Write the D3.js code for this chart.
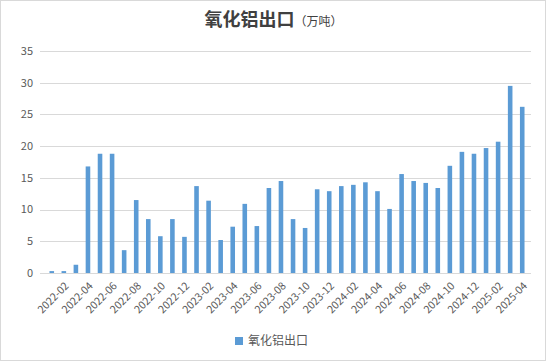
<!DOCTYPE html>
<html lang="zh">
<head>
<meta charset="UTF-8">
<title>氧化铝出口</title>
<script src="https://cdnjs.cloudflare.com/ajax/libs/d3/7.8.5/d3.min.js"></script>
<style>
    body { margin: 0; background: #fff; font-family: "Noto Sans CJK SC", "Noto Sans", sans-serif; }
    svg { display: block; }
</style>
</head>
<body>
<div id="chart"></div>
<script>
    // months, one bar each
    const months = [
        "2022-01", "2022-02", "2022-03", "2022-04", "2022-05", "2022-06", "2022-07", "2022-08",
        "2022-09", "2022-10", "2022-11", "2022-12", "2023-01", "2023-02", "2023-03", "2023-04",
        "2023-05", "2023-06", "2023-07", "2023-08", "2023-09", "2023-10", "2023-11", "2023-12",
        "2024-01", "2024-02", "2024-03", "2024-04", "2024-05", "2024-06", "2024-07", "2024-08",
        "2024-09", "2024-10", "2024-11", "2024-12", "2025-01", "2025-02", "2025-03", "2025-04"
    ];
    // export volume, 10k tonnes
    const exportVol = [
        0.3, 0.3, 1.3, 16.8, 18.8, 18.8, 3.6, 11.5,
        8.5, 5.8, 8.5, 5.7, 13.7, 11.4, 5.2, 7.3,
        10.9, 7.4, 13.4, 14.5, 8.5, 7.1, 13.2, 12.9,
        13.7, 13.9, 14.3, 12.9, 10.1, 15.6, 14.5, 14.2,
        13.4, 16.9, 19.1, 18.8, 19.7, 20.7, 29.5, 26.2
    ];
    const yTicks = [0, 5, 10, 15, 20, 25, 30, 35];

    const W = 547, H = 362;
    const svg = d3.select("#chart").append("svg")
        .attr("width", W).attr("height", H);

    // outer frame
    svg.append("rect")
        .attr("x", 0.5).attr("y", 0.5)
        .attr("width", W - 2).attr("height", H - 2)
        .attr("fill", "#fff").attr("stroke", "#d9d9d9");

    const x = d3.scaleBand().domain(months).range([42, 532]).padding(0.62);
    const y = d3.scaleLinear().domain([0, 35]).range([273, 51]);

    // gridlines
    svg.append("g")
        .selectAll("line")
        .data(yTicks)
        .join("line")
        .attr("x1", 40).attr("x2", 531)
        .attr("y1", d => Math.round(y(d)) + 0.5)
        .attr("y2", d => Math.round(y(d)) + 0.5)
        .attr("stroke", "#d9d9d9");

    // y labels
    svg.append("g")
        .selectAll("text")
        .data(yTicks)
        .join("text")
        .attr("x", 33)
        .attr("y", d => y(d))
        .attr("dy", "0.35em")
        .attr("text-anchor", "end")
        .attr("fill", "#595959")
        .attr("font-size", "11px")
        .text(d => d);

    // bars
    svg.append("g")
        .selectAll("rect")
        .data(months)
        .join("rect")
        .attr("x", d => x(d))
        .attr("width", x.bandwidth())
        .attr("y", (d, i) => y(exportVol[i]))
        .attr("height", (d, i) => y(0) - y(exportVol[i]))
        .attr("fill", "#5b9bd5");

    // x labels, every other month
    svg.append("g")
        .selectAll("text")
        .data(months.filter((d, i) => i % 2 === 1))
        .join("text")
        .attr("transform", d => `translate(${x(d) + x.bandwidth() / 2 + 3},${284}) rotate(-45)`)
        .attr("text-anchor", "end")
        .attr("dy", "0.35em")
        .attr("fill", "#595959")
        .attr("font-size", "10.5px")
        .text(d => d);

    // title
    const title = svg.append("text")
        .attr("x", W / 2)
        .attr("y", 26)
        .attr("text-anchor", "middle")
        .attr("fill", "#404040");
    title.append("tspan")
        .attr("font-size", "18px")
        .attr("font-weight", "bold")
        .text("氧化铝出口");
    title.append("tspan")
        .attr("font-size", "12px")
        .attr("fill", "#404040")
        .text("（万吨）");

    // legend
    svg.append("rect")
        .attr("x", 235).attr("y", 337)
        .attr("width", 8).attr("height", 8)
        .attr("fill", "#5b9bd5");
    svg.append("text")
        .attr("x", 248).attr("y", 341)
        .attr("dy", "0.35em")
        .attr("fill", "#595959")
        .attr("font-size", "12px")
        .text("氧化铝出口");
</script>
</body>
</html>
